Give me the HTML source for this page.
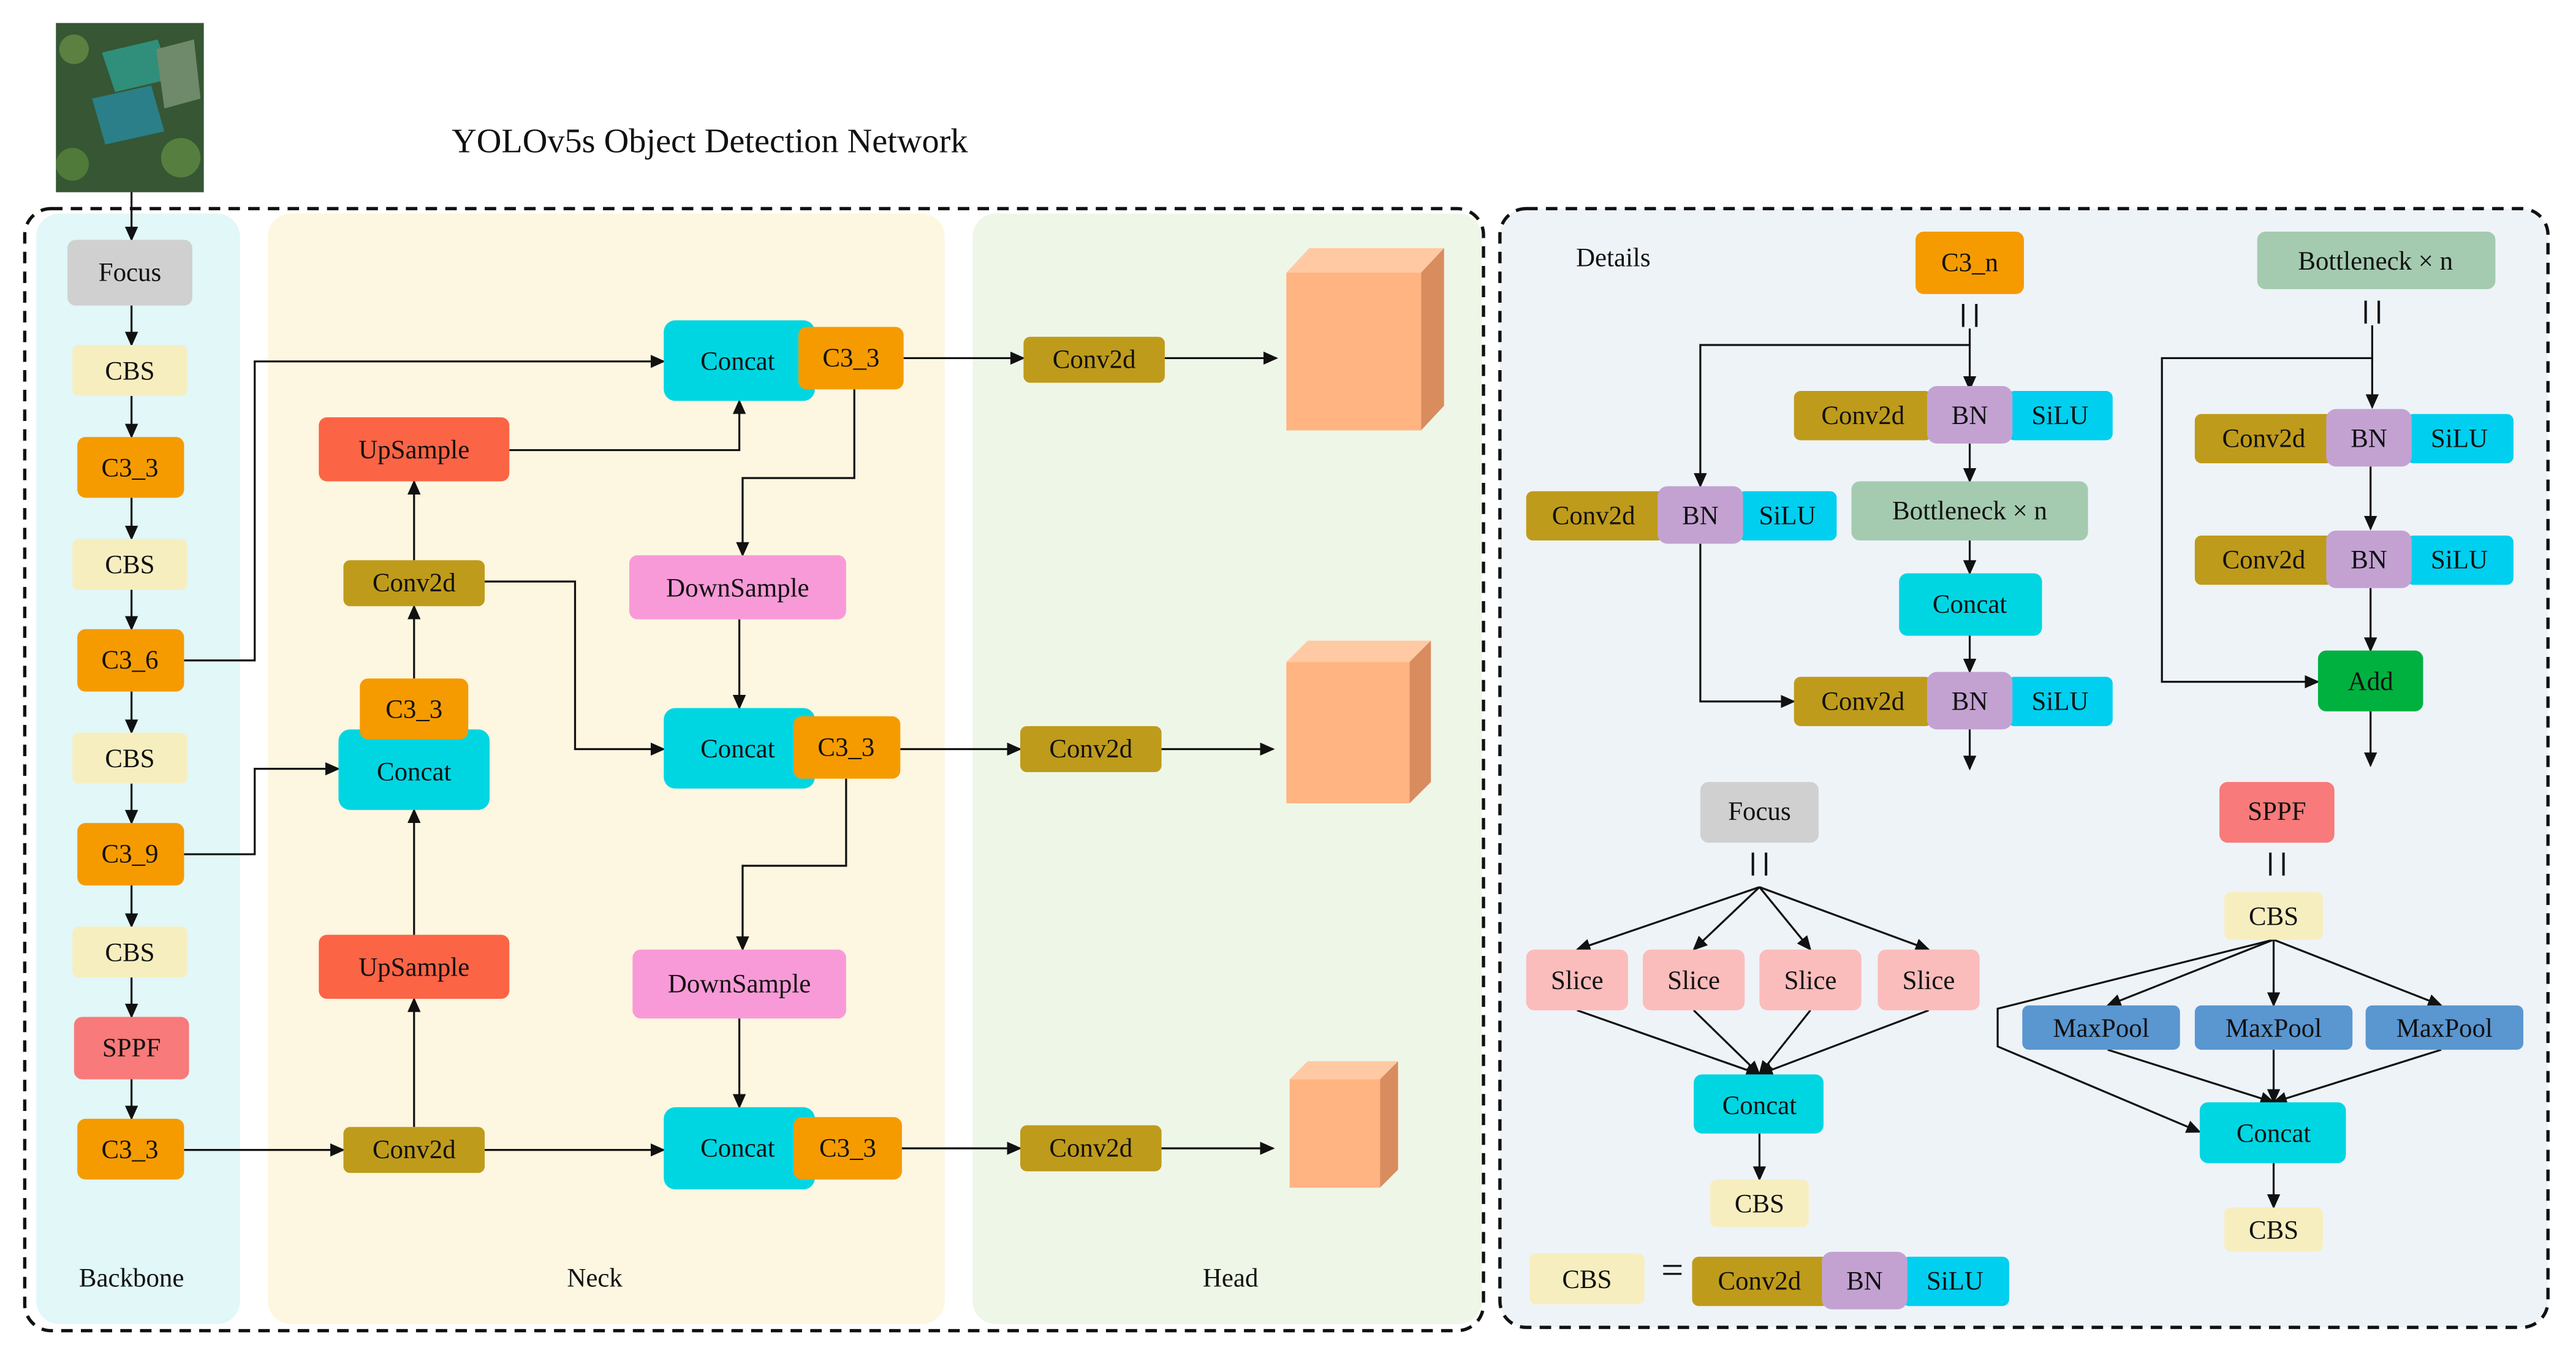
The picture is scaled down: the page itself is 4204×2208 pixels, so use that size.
<!DOCTYPE html>
<html><head><meta charset="utf-8"><style>
html,body{margin:0;padding:0;background:#fff}
svg{display:block}
text{font-family:"Liberation Serif",serif;font-size:16px;fill:#111;text-anchor:middle;dominant-baseline:central}
</style></head><body>
<svg width="4204" height="2208" viewBox="0 0 1568 823.6" xmlns="http://www.w3.org/2000/svg">
<defs>
<marker id="a" markerWidth="10" markerHeight="10" refX="8" refY="4" orient="auto" markerUnits="userSpaceOnUse">
<path d="M0,0 L9,4 L0,8 z" fill="#111"/></marker>
</defs>
<rect width="1568" height="823.6" fill="#fff"/>
<rect x="34" y="14" width="90" height="103" fill="#3d5e3a"/>
<rect x="34" y="14" width="90" height="103" fill="#2e4a2c" opacity=".4"/>
<polygon points="62,32 96,24 104,48 70,56" fill="#2f8f7a"/>
<polygon points="56,60 92,52 100,80 64,88" fill="#2b7f88"/>
<polygon points="95,30 118,24 122,60 100,66" fill="#6f8a6a"/>
<circle cx="44" cy="100" r="10" fill="#4f7a3a"/><circle cx="110" cy="96" r="12" fill="#567f3f"/>
<circle cx="45" cy="30" r="9" fill="#5b8040"/>
<text x="432" y="86" style="font-size:21px">YOLOv5s Object Detection Network</text>
<rect x="22" y="130" width="124" height="676" rx="14" fill="#e1f7f8"/>
<rect x="163" y="130" width="412" height="676" rx="14" fill="#fdf6e0"/>
<rect x="592" y="130" width="310" height="676" rx="14" fill="#eef6e8"/>
<rect x="15" y="127" width="888" height="683" rx="16" fill="none" stroke="#111" stroke-width="2" stroke-dasharray="7,5"/>
<rect x="913" y="127" width="638" height="681" rx="16" fill="#eef3f8" stroke="#111" stroke-width="2" stroke-dasharray="7,5"/>
<text x="80" y="778">Backbone</text><text x="362" y="778">Neck</text><text x="749" y="778">Head</text>
<g stroke="#111" stroke-width="1.2" fill="none" marker-end="url(#a)">
<path d="M80,117V146"/><path d="M80,186V210"/><path d="M80,241V266"/><path d="M80,303V328"/><path d="M80,359V383"/>
<path d="M80,421V446"/><path d="M80,477V501"/><path d="M80,539V564"/><path d="M80,595V619"/><path d="M80,657V681"/>
<path d="M112,402H155V220H404"/><path d="M112,520H155V468H206"/><path d="M112,700H209"/><path d="M295,700H404"/>
<path d="M252,686V608"/><path d="M252,569V493"/><path d="M252,413V369"/><path d="M252,341V293"/>
<path d="M310,274H450V244"/><path d="M295,354H350V456H404"/>
<path d="M520,237V291H452V338"/><path d="M450,377V431"/><path d="M515,474V527H452V578"/><path d="M450,620V674"/>
<path d="M550,218H623"/><path d="M709,218H777"/><path d="M548,456H621"/><path d="M707,456H775"/><path d="M549,699H621"/><path d="M707,699H775"/>
<path d="M1199,200V237"/><path d="M1199,210H1035V296"/><path d="M1199,270V293"/><path d="M1199,329V349"/><path d="M1199,387V409"/><path d="M1199,444V468"/>
<path d="M1035,331V427H1092"/>
<path d="M1444,198V248"/><path d="M1444,218H1316V415H1411"/><path d="M1443,284V322"/><path d="M1443,358V396"/><path d="M1443,433V466"/>
<path d="M1071,540L960,578"/><path d="M1071,540L1031,578"/><path d="M1071,540L1102,578"/><path d="M1071,540L1174,578"/>
<path d="M960,615L1071,654"/><path d="M1031,615L1071,654"/><path d="M1102,615L1071,654"/><path d="M1174,615L1071,654"/>
<path d="M1071,690V718"/>
<path d="M1384,572L1283,612"/><path d="M1384,572V612"/><path d="M1384,572L1486,612"/>
<path d="M1384,572L1216,614V637L1339,689"/>
<path d="M1283,639L1384,671"/><path d="M1384,639V671"/><path d="M1486,639L1384,671"/><path d="M1384,708V735"/>
</g>
<g stroke="#111" stroke-width="1.5">
<path d="M1195,185V199M1203,185V199"/><path d="M1440,183V197M1448,183V197"/>
<path d="M1067,519V533M1075,519V533"/><path d="M1382,519V533M1390,519V533"/>
</g>
<text x="1018" y="773" style="font-size:24px">=</text>
<g>
<rect x="41" y="146" width="76" height="40" rx="5" fill="#d0d0d0"/><text x="79" y="166">Focus</text>
<rect x="44" y="210" width="70" height="31" rx="4" fill="#f7eebf"/><text x="79" y="226">CBS</text>
<rect x="47" y="266" width="65" height="37" rx="5" fill="#f59b00"/><text x="79" y="285">C3_3</text>
<rect x="44" y="328" width="70" height="31" rx="4" fill="#f7eebf"/><text x="79" y="344">CBS</text>
<rect x="47" y="383" width="65" height="38" rx="5" fill="#f59b00"/><text x="79" y="402">C3_6</text>
<rect x="44" y="446" width="70" height="31" rx="4" fill="#f7eebf"/><text x="79" y="462">CBS</text>
<rect x="47" y="501" width="65" height="38" rx="5" fill="#f59b00"/><text x="79" y="520">C3_9</text>
<rect x="44" y="564" width="70" height="31" rx="4" fill="#f7eebf"/><text x="79" y="580">CBS</text>
<rect x="45" y="619" width="70" height="38" rx="5" fill="#f87a7a"/><text x="80" y="638">SPPF</text>
<rect x="47" y="681" width="65" height="37" rx="5" fill="#f59b00"/><text x="79" y="700">C3_3</text>
<rect x="194" y="254" width="116" height="39" rx="5" fill="#fc6446"/><text x="252" y="274">UpSample</text>
<rect x="209" y="341" width="86" height="28" rx="4" fill="#bf9b1b"/><text x="252" y="355">Conv2d</text>
<rect x="206" y="444" width="92" height="49" rx="7" fill="#00d6e2"/><text x="252" y="470">Concat</text>
<rect x="219" y="413" width="66" height="37" rx="5" fill="#f59b00"/><text x="252" y="432">C3_3</text>
<rect x="194" y="569" width="116" height="39" rx="5" fill="#fc6446"/><text x="252" y="589">UpSample</text>
<rect x="209" y="686" width="86" height="28" rx="4" fill="#bf9b1b"/><text x="252" y="700">Conv2d</text>
<rect x="404" y="195" width="92" height="49" rx="7" fill="#00d6e2"/><text x="449" y="220">Concat</text>
<rect x="486" y="199" width="64" height="38" rx="5" fill="#f59b00"/><text x="518" y="218">C3_3</text>
<rect x="383" y="338" width="132" height="39" rx="5" fill="#f99ad8"/><text x="449" y="358">DownSample</text>
<rect x="404" y="431" width="92" height="49" rx="7" fill="#00d6e2"/><text x="449" y="456">Concat</text>
<rect x="483" y="436" width="65" height="38" rx="5" fill="#f59b00"/><text x="515" y="455">C3_3</text>
<rect x="385" y="578" width="130" height="42" rx="5" fill="#f99ad8"/><text x="450" y="599">DownSample</text>
<rect x="404" y="674" width="92" height="50" rx="7" fill="#00d6e2"/><text x="449" y="699">Concat</text>
<rect x="483" y="680" width="66" height="38" rx="5" fill="#f59b00"/><text x="516" y="699">C3_3</text>
<rect x="623" y="205" width="86" height="28" rx="4" fill="#bf9b1b"/><text x="666" y="219">Conv2d</text>
<rect x="621" y="442" width="86" height="28" rx="4" fill="#bf9b1b"/><text x="664" y="456">Conv2d</text>
<rect x="621" y="685" width="86" height="28" rx="4" fill="#bf9b1b"/><text x="664" y="699">Conv2d</text>
<polygon points="783,166 797,151 879,151 865,166" fill="#ffc9a3"/><polygon points="865,166 879,151 879,247 865,262" fill="#d98c5e"/><rect x="783" y="166" width="82" height="96" fill="#ffb482"/>
<polygon points="783,403 796,390 871,390 858,403" fill="#ffc9a3"/><polygon points="858,403 871,390 871,476 858,489" fill="#d98c5e"/><rect x="783" y="403" width="75" height="86" fill="#ffb482"/>
<polygon points="785,657 796,646 851,646 840,657" fill="#ffc9a3"/><polygon points="840,657 851,646 851,712 840,723" fill="#d98c5e"/><rect x="785" y="657" width="55" height="66" fill="#ffb482"/>
<text x="982" y="157">Details</text>
<rect x="1166" y="141" width="66" height="38" rx="5" fill="#f59b00"/><text x="1199" y="160">C3_n</text>
<rect x="1092" y="238" width="84" height="30" rx="4" fill="#bf9b1b"/><text x="1134" y="253">Conv2d</text>
<rect x="1222" y="238" width="64" height="30" rx="4" fill="#00cfef"/><text x="1254" y="253">SiLU</text>
<rect x="1173" y="235" width="52" height="35" rx="6" fill="#c3a2d2"/><text x="1199" y="253">BN</text>
<rect x="1127" y="293" width="144" height="36" rx="5" fill="#a4cbb0"/><text x="1199" y="311">Bottleneck × n</text>
<rect x="1156" y="349" width="87" height="38" rx="5" fill="#00d6e2"/><text x="1199" y="368">Concat</text>
<rect x="1092" y="412" width="84" height="30" rx="4" fill="#bf9b1b"/><text x="1134" y="427">Conv2d</text>
<rect x="1222" y="412" width="64" height="30" rx="4" fill="#00cfef"/><text x="1254" y="427">SiLU</text>
<rect x="1173" y="409" width="52" height="35" rx="6" fill="#c3a2d2"/><text x="1199" y="427">BN</text>
<rect x="929" y="299" width="84" height="30" rx="4" fill="#bf9b1b"/><text x="970" y="314">Conv2d</text>
<rect x="1058" y="299" width="60" height="30" rx="4" fill="#00cfef"/><text x="1088" y="314">SiLU</text>
<rect x="1009" y="296" width="52" height="35" rx="6" fill="#c3a2d2"/><text x="1035" y="314">BN</text>
<rect x="1374" y="141" width="145" height="35" rx="5" fill="#a4cbb0"/><text x="1446" y="159">Bottleneck × n</text>
<rect x="1336" y="252" width="84" height="30" rx="4" fill="#bf9b1b"/><text x="1378" y="267">Conv2d</text>
<rect x="1465" y="252" width="65" height="30" rx="4" fill="#00cfef"/><text x="1497" y="267">SiLU</text>
<rect x="1416" y="249" width="52" height="35" rx="6" fill="#c3a2d2"/><text x="1442" y="267">BN</text>
<rect x="1336" y="326" width="84" height="30" rx="4" fill="#bf9b1b"/><text x="1378" y="341">Conv2d</text>
<rect x="1465" y="326" width="65" height="30" rx="4" fill="#00cfef"/><text x="1497" y="341">SiLU</text>
<rect x="1416" y="323" width="52" height="35" rx="6" fill="#c3a2d2"/><text x="1442" y="341">BN</text>
<rect x="1411" y="396" width="64" height="37" rx="5" fill="#00b140"/><text x="1443" y="415">Add</text>
<rect x="1035" y="476" width="72" height="37" rx="5" fill="#d0d0d0"/><text x="1071" y="494">Focus</text>
<rect x="929" y="578" width="62" height="37" rx="5" fill="#fbbcbc"/><text x="960" y="597">Slice</text>
<rect x="1000" y="578" width="62" height="37" rx="5" fill="#fbbcbc"/><text x="1031" y="597">Slice</text>
<rect x="1071" y="578" width="62" height="37" rx="5" fill="#fbbcbc"/><text x="1102" y="597">Slice</text>
<rect x="1143" y="578" width="62" height="37" rx="5" fill="#fbbcbc"/><text x="1174" y="597">Slice</text>
<rect x="1031" y="654" width="79" height="36" rx="5" fill="#00d6e2"/><text x="1071" y="673">Concat</text>
<rect x="1041" y="718" width="60" height="29" rx="4" fill="#f7eebf"/><text x="1071" y="733">CBS</text>
<rect x="1351" y="476" width="70" height="37" rx="5" fill="#f87a7a"/><text x="1386" y="494">SPPF</text>
<rect x="1354" y="543" width="60" height="29" rx="4" fill="#f7eebf"/><text x="1384" y="558">CBS</text>
<rect x="1231" y="612" width="96" height="27" rx="4" fill="#5a96d0"/><text x="1279" y="626">MaxPool</text>
<rect x="1336" y="612" width="96" height="27" rx="4" fill="#5a96d0"/><text x="1384" y="626">MaxPool</text>
<rect x="1440" y="612" width="96" height="27" rx="4" fill="#5a96d0"/><text x="1488" y="626">MaxPool</text>
<rect x="1339" y="671" width="89" height="37" rx="5" fill="#00d6e2"/><text x="1384" y="690">Concat</text>
<rect x="1354" y="735" width="60" height="27" rx="4" fill="#f7eebf"/><text x="1384" y="749">CBS</text>
<rect x="931" y="763" width="70" height="31" rx="4" fill="#f7eebf"/><text x="966" y="779">CBS</text>
<rect x="1030" y="765" width="83" height="30" rx="4" fill="#bf9b1b"/><text x="1071" y="780">Conv2d</text>
<rect x="1158" y="765" width="65" height="30" rx="4" fill="#00cfef"/><text x="1190" y="780">SiLU</text>
<rect x="1109" y="762" width="52" height="35" rx="6" fill="#c3a2d2"/><text x="1135" y="780">BN</text>
</g>
</svg>
</body></html>
